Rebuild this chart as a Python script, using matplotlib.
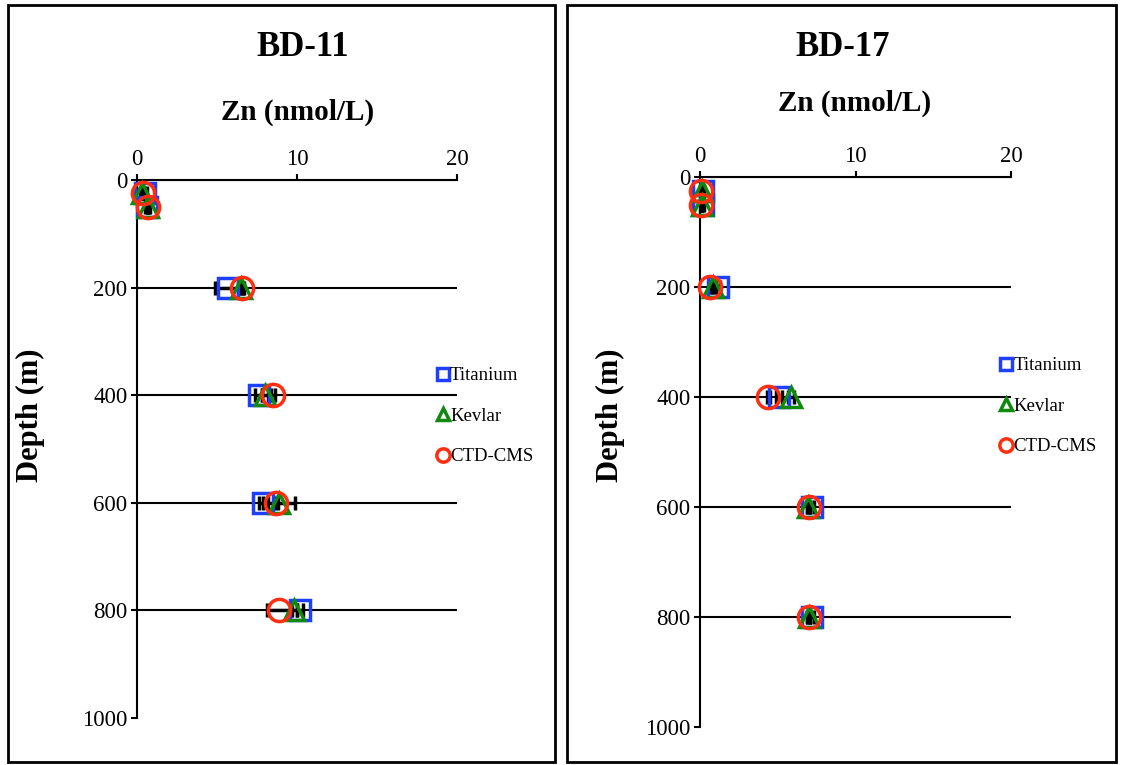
import matplotlib
matplotlib.use("Agg")
import matplotlib.pyplot as plt
from matplotlib.patches import Rectangle

plt.rcParams['font.family'] = ['Liberation Serif', 'DejaVu Serif']

# ---- data ----
depth = [25, 50, 200, 400, 600, 800]

bd11_ti = [0.5, 0.6, 5.7, 7.6, 7.9, 10.2]
bd11_kev = [0.3, 0.7, 6.5, 8.0, 8.9, 9.8]
bd11_ctd = [0.35, 0.7, 6.55, 8.5, 8.7, 8.9]
bd11_ti_err = [0.1, 0.1, 0.8, 0.2, 0.3, 0.2]
bd11_kev_err = [0.1, 0.1, 0.2, 0.2, 1.0, 0.2]
bd11_ctd_err = [0.05, 0.05, 0.1, 0.1, 0.1, 0.8]

bd17_ti = [0.2, 0.2, 1.15, 5.1, 7.2, 7.2]
bd17_kev = [0.1, 0.1, 0.85, 5.85, 6.95, 7.0]
bd17_ctd = [0.05, 0.05, 0.65, 4.4, 7.0, 7.0]
bd17_ti_err = [0.05, 0.05, 0.15, 0.2, 0.1, 0.1]
bd17_kev_err = [0.05, 0.05, 0.1, 0.2, 0.1, 0.1]
bd17_ctd_err = [0.05, 0.05, 0.1, 0.1, 0.1, 0.1]

titles = ["BD-11", "BD-17"]
xlabel = "Zn (nmol/L)"
ylabel = "Depth (m)"
series_names = ["Titanium", "Kevlar", "CTD-CMS"]
xticks = [0, 10, 20]
yticks = [0, 200, 400, 600, 800, 1000]

colors = ['#1f3fff', '#0f8a0f', '#ff2e0f']
markers = ['s', '^', 'o']
msizes = [15, 15, 16]

W, H = 1121, 765
fig = plt.figure(figsize=(W / 100, H / 100), dpi=100)

def fx(px):
    return px / W

def fy(py):
    return 1 - py / H

# panel borders
for (x0, y0, x1, y1) in [(8, 5, 555, 762), (567, 5, 1116, 762)]:
    fig.patches.append(Rectangle((fx(x0), fy(y1)), fx(x1) - fx(x0), fy(y0) - fy(y1),
                                 transform=fig.transFigure, fill=False,
                                 edgecolor='black', linewidth=2))

panels = [
    dict(ax=(137, 180, 457, 718), data=[(bd11_ti, bd11_ti_err), (bd11_kev, bd11_kev_err), (bd11_ctd, bd11_ctd_err)],
         title=(303, 47), xl=(298, 112), yl=(30, 415), leg=(437, 367)),
    dict(ax=(700, 177, 1011, 727), data=[(bd17_ti, bd17_ti_err), (bd17_kev, bd17_kev_err), (bd17_ctd, bd17_ctd_err)],
         title=(843, 47), xl=(855, 103), yl=(610, 415), leg=(1000, 357)),
]

for i, p in enumerate(panels):
    x0, y0, x1, y1 = p['ax']
    ax = fig.add_axes([fx(x0), fy(y1), fx(x1) - fx(x0), fy(y0) - fy(y1)])
    ax.set_xlim(0, 20)
    ax.set_ylim(1000, 0)
    ax.set_xticks(xticks)
    ax.set_yticks(yticks)
    ax.xaxis.tick_top()
    for s in ['right', 'bottom']:
        ax.spines[s].set_visible(False)
    for s in ['left', 'top']:
        ax.spines[s].set_linewidth(1.5)
    ax.tick_params(axis='both', labelsize=16.5, width=1.5, length=4, direction='out', pad=3)
    ax.yaxis.grid(True, color='black', linewidth=1.5)
    ax.set_axisbelow(True)
    gls = ax.get_ygridlines()
    gls[-1].set_visible(False)
    ax.patch.set_alpha(0)

    handles = []
    for k, (vals, err) in enumerate(p['data']):
        ax.errorbar(vals, depth, xerr=err, fmt='none', ecolor='black', elinewidth=2.5,
                    capsize=5, capthick=2.5, zorder=2.5, clip_on=False)
        h, = ax.plot(vals, depth, linestyle='none', marker=markers[k], markersize=msizes[k],
                     markerfacecolor='none', markeredgecolor=colors[k], markeredgewidth=2.5,
                     label=series_names[k], clip_on=False, zorder=3 + k)
        handles.append(h)

    fig.legend(handles=handles, labels=series_names, loc='upper left',
               bbox_to_anchor=(fx(p['leg'][0]), fy(p['leg'][1])),
               bbox_transform=fig.transFigure, frameon=False, fontsize=13.5,
               markerscale=0.6, handlelength=0.6, handletextpad=0.1,
               labelspacing=1.25, borderpad=0, borderaxespad=0)

    fig.text(fx(p['title'][0]), fy(p['title'][1]), titles[i], ha='center', va='center',
             fontsize=25, fontweight='bold')
    fig.text(fx(p['xl'][0]), fy(p['xl'][1]), xlabel, ha='center', va='center',
             fontsize=21, fontweight='bold')
    fig.text(fx(p['yl'][0]), fy(p['yl'][1]), ylabel, ha='center', va='center',
             fontsize=22, fontweight='bold', rotation=90)

fig.savefig("out.png", dpi=100)
